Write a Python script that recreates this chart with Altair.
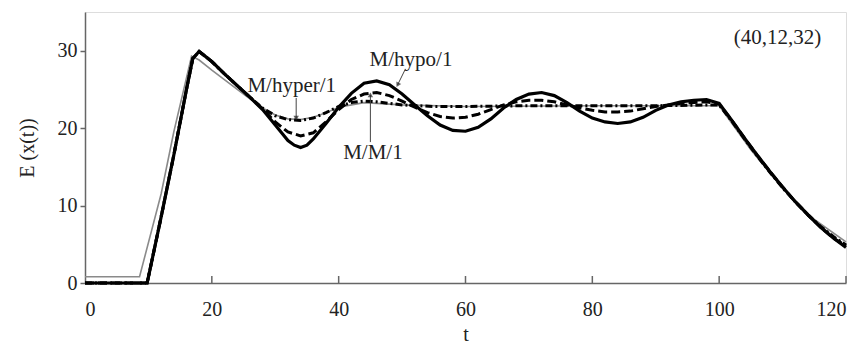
import altair as alt
import pandas as pd

# ---- data ----
hypo_t = [0, 9.8, 12, 14, 16, 17, 18, 20, 22, 24, 26, 28, 30, 31, 32, 33, 34, 35, 36, 38, 40, 42, 44, 46, 48, 50,
          52, 54, 56, 58, 60, 62, 64, 66, 68, 70, 72, 74, 76, 78, 80, 82, 84, 86, 88, 90, 92, 94, 96, 98, 100,
          102, 104, 106, 108, 110, 112, 114, 116, 118, 120]
hypo_e = [0, 0, 8.5, 16.5, 25.0, 29.0, 29.9, 28.6, 27.0, 25.5, 24.0, 22.4, 20.4, 19.4, 18.4, 17.8, 17.5, 17.8, 18.6,
          20.6, 22.7, 24.5, 25.8, 26.1, 25.6, 24.4, 23.0, 21.6, 20.4, 19.7, 19.6, 20.1, 21.2, 22.6, 23.7, 24.4,
          24.6, 24.2, 23.3, 22.2, 21.3, 20.8, 20.6, 20.8, 21.4, 22.3, 23.0, 23.4, 23.6, 23.7, 23.2,
          21.0, 18.7, 16.5, 14.4, 12.4, 10.5, 8.8, 7.2, 5.8, 4.6]

mm1_t = [0, 9.8, 12, 14, 16, 17, 18, 20, 22, 24, 26, 28, 30, 32, 34, 36, 38, 40, 42, 44, 46, 48, 50, 52, 54, 56, 58,
         60, 62, 64, 66, 68, 70, 72, 74, 76, 78, 80, 82, 84, 86, 88, 90, 94, 98, 100,
         102, 104, 106, 108, 110, 112, 114, 116, 118, 120]
mm1_e = [0, 0, 8.5, 16.5, 25.0, 29.0, 29.9, 28.6, 27.0, 25.5, 24.0, 22.5, 20.8, 19.5, 19.0, 19.4, 20.8, 22.4, 23.7,
         24.4, 24.6, 24.2, 23.5, 22.7, 22.0, 21.5, 21.3, 21.4, 21.8, 22.4, 23.0, 23.4, 23.6, 23.6, 23.4, 23.0, 22.6,
         22.3, 22.1, 22.1, 22.2, 22.5, 22.8, 23.2, 23.4, 23.1,
         21.0, 18.7, 16.5, 14.4, 12.4, 10.5, 8.8, 7.2, 5.8, 4.8]

hyper_t = [0, 9.8, 12, 14, 16, 17, 18, 20, 22, 24, 26, 28, 30, 32, 34, 36, 38, 40, 42, 44, 46, 48, 50, 55, 60, 70,
           80, 90, 100, 102, 104, 106, 108, 110, 112, 114, 116, 118, 120]
hyper_e = [0, 0, 8.5, 16.5, 25.0, 29.0, 29.9, 28.6, 27.0, 25.5, 24.0, 22.6, 21.6, 21.1, 21.0, 21.3, 22.0, 22.8, 23.3,
           23.5, 23.4, 23.2, 23.0, 22.8, 22.8, 22.9, 22.9, 22.9, 23.0,
           20.9, 18.6, 16.4, 14.3, 12.3, 10.5, 8.8, 7.3, 6.0, 4.9]

gray_t = [0, 8.6, 12, 14, 16, 16.8, 18, 20, 25, 28, 30, 32, 34, 36, 38, 40, 44, 50, 60, 80, 100,
          105, 110, 115, 120]
gray_e = [0.8, 0.8, 11.5, 19.5, 26.5, 29.3, 28.8, 27.5, 24.4, 22.6, 21.7, 21.2, 21.1, 21.4, 22.0, 22.7, 23.3,
          23.0, 22.8, 22.9, 22.9, 17.2, 12.2, 8.2, 5.3]

x_ticks = [0, 20, 40, 60, 80, 100, 120]
y_ticks = [0, 10, 20, 30]

labels = ["M/hyper/1", "M/hypo/1", "M/M/1", "(40,12,32)"]
label_t = [32.6, 51.4, 45.4, 109.2]
label_e = [25.4, 28.8, 16.8, 31.6]

# annotation leader lines (start -> end, arrow at end)
ann_t = [33.3, 50.5, 45.0]
ann_e = [23.9, 27.6, 18.2]
ann_t2 = [33.3, 49.3, 45.0]
ann_e2 = [21.3, 25.6, 24.3]

FONT = "Liberation Serif"
W, H = 761, 271

rows = []
for name, ts, es in [("gray", gray_t, gray_e), ("hyper", hyper_t, hyper_e),
                     ("mm1", mm1_t, mm1_e), ("hypo", hypo_t, hypo_e)]:
    for t, e in zip(ts, es):
        rows.append({"series": name, "t": t, "e": e})
df = pd.DataFrame(rows)

xs = alt.Scale(domain=[0, 120], nice=False)
ys = alt.Scale(domain=[0, 35], nice=False)

base = alt.Chart(df)

def line(name, **kw):
    return base.transform_filter(alt.datum.series == name).mark_line(**kw).encode(
        x=alt.X("t:Q", scale=xs, axis=alt.Axis(values=x_ticks, title="t", ticks=False, grid=False,
                                             domainColor="#666", domainWidth=1.5, labelFont=FONT,
                                             labelFontSize=20, labelColor="#222", labelPadding=16,
                                             titleFont=FONT, titleFontSize=20, titleFontWeight="normal",
                                             titleColor="#222", titlePadding=5)),
        y=alt.Y("e:Q", scale=ys, axis=alt.Axis(values=y_ticks, title="E (x(t))", grid=False,
                                             domainColor="#666", domainWidth=1.5, tickColor="#666",
                                             tickWidth=1.5, tickSize=5, labelFont=FONT, labelFontSize=20,
                                             labelColor="#222", labelPadding=3, titleFont=FONT,
                                             titleFontSize=20, titleFontWeight="normal", titleColor="#222",
                                             titlePadding=20)),
    )

gray = line("gray", color="#8a8a8a", strokeWidth=1.6)
hyper = line("hyper", color="black", strokeWidth=3, strokeDash=[7, 3, 2, 3])
mm1 = line("mm1", color="black", strokeWidth=3, strokeDash=[9, 4])
hypo = line("hypo", color="black", strokeWidth=3.2)

tick_df = pd.DataFrame({"t": x_ticks[1:]})
xticks = alt.Chart(tick_df).mark_rule(color="#666", strokeWidth=1.5).encode(
    x=alt.X("t:Q", scale=xs), y=alt.value(H), y2=alt.value(H - 7))

lab_df = pd.DataFrame({"label": labels, "t": label_t, "e": label_e})
texts = alt.Chart(lab_df).mark_text(font=FONT, fontSize=21, color="#222").encode(
    x=alt.X("t:Q", scale=xs), y=alt.Y("e:Q", scale=ys), text="label:N")

ann_df = pd.DataFrame({"t": ann_t, "e": ann_e, "t2": ann_t2, "e2": ann_e2})
leaders = alt.Chart(ann_df).mark_rule(color="#444", strokeWidth=1).encode(
    x=alt.X("t:Q", scale=xs), y=alt.Y("e:Q", scale=ys), x2="t2:Q", y2="e2:Q")

head_df = pd.DataFrame({"t": ann_t2, "e": ann_e2, "ang": [180, 208, 0]})
heads = alt.Chart(head_df).mark_point(shape="triangle-up", filled=True, color="#222", size=30).encode(
    x=alt.X("t:Q", scale=xs), y=alt.Y("e:Q", scale=ys), angle=alt.Angle("ang:Q", scale=None))

chart = alt.layer(gray, hyper, mm1, hypo, xticks, leaders, heads, texts).properties(
    width=W, height=H,
    autosize=alt.AutoSizeParams(type="none"),
    padding={"left": 77, "top": 4, "right": 4, "bottom": 61},
).configure_view(stroke=None).configure(background="white")

chart.save("out.html", embed_options={"renderer": "svg", "actions": False})
